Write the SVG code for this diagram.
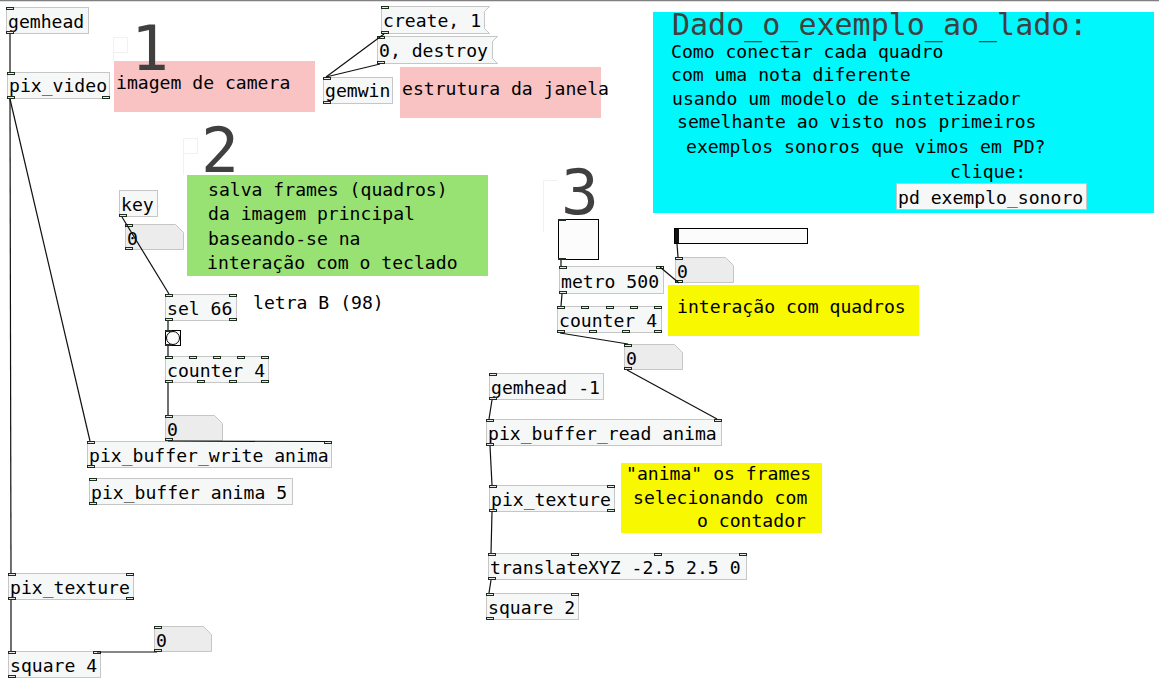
<svg xmlns="http://www.w3.org/2000/svg" width="1159" height="680" viewBox="0 0 1159 680">
<style>
text{font-family:"DejaVu Sans Mono","Liberation Mono",monospace;font-size:18.1px;fill:#000}
.obj{fill:#f6f8f8;stroke:#c6c6c6;stroke-width:1}
.num{fill:#ececec;stroke:#c6c6c6;stroke-width:1}
.msg{fill:#f6f8f8;stroke:#c6c6c6;stroke-width:1}
.io{fill:#e8ece8;stroke:#1e2e1e;stroke-width:1}
.iod{fill:#1e2e1e;stroke:#1e2e1e;stroke-width:1}
.big{font-size:63px;fill:#404040}
.title{font-size:30px;fill:#404040}
.faint{fill:none;stroke:#f1f1f1;stroke-width:1}
#connectors line{stroke:#101010;stroke-width:1.2}
</style>
<rect width="1159" height="680" fill="#ffffff"/>
<line x1="0" y1="0.5" x2="1159" y2="0.5" stroke="#808080" stroke-width="1.5"/>

<!-- faint canvas marks -->
<g id="faint">
<path class="faint" d="M113.5,61 V37.5 H127.5 V52.5 H113.5"/>
<path class="faint" d="M183.5,175 V138.5 H197.5 V153.5 H183.5"/>
<path class="faint" d="M543.5,232 V180.5 H557.5"/>
</g>

<!-- comments / colored backgrounds -->
<g id="c1"><rect x="114" y="61" width="201" height="51" fill="#f9c3c3"/><text x="116" y="89">imagem de camera</text></g>
<g id="n1"><text class="big" x="131" y="70">1</text></g>
<g id="c_janela"><rect x="400" y="67" width="201" height="51" fill="#f9c3c3"/><text x="402" y="95">estrutura da janela</text></g>
<g id="n2"><text class="big" x="201" y="172">2</text></g>
<g id="c2"><rect x="187" y="175" width="301" height="101" fill="#98e274"/>
<text x="208" y="196">salva frames (quadros)</text>
<text x="208" y="220">da imagem principal</text>
<text x="208" y="245">baseando-se na</text>
<text x="207" y="269">interação com o teclado</text></g>
<g id="c_letra"><text x="253" y="309">letra B (98)</text></g>
<g id="n3"><text class="big" x="561" y="214">3</text></g>
<g id="c3"><rect x="668" y="285" width="251" height="51" fill="#f8f800"/><text x="677" y="313">interação com quadros</text></g>
<g id="c4"><rect x="621" y="463" width="201" height="70" fill="#f8f800"/>
<text x="626" y="480">"anima" os frames</text>
<text x="633" y="504">selecionando com</text>
<text x="697" y="527">o contador</text></g>
<g id="c_question"><rect x="653" y="12" width="501" height="201" fill="#00f8fc"/>
<text class="title" x="672" y="35">Dado_o_exemplo_ao_lado:</text>
<text x="671" y="58">Como conectar cada quadro</text>
<text x="671" y="81">com uma nota diferente</text>
<text x="672" y="105">usando um modelo de sintetizador</text>
<text x="677" y="128">semelhante ao visto nos primeiros</text>
<text x="686" y="153">exemplos sonoros que vimos em PD?</text>
<text x="950" y="178">clique:</text></g>
<g id="pd_exemplo"><rect class="obj" x="896.5" y="183.5" width="190" height="26"/><text x="898" y="204">pd exemplo_sonoro</text></g>

<!-- left column -->
<g id="gemhead"><rect class="obj" x="6.5" y="7.5" width="82" height="26"/><text x="8" y="28">gemhead</text>
<rect class="io" x="6.5" y="7.5" width="7" height="2"/><rect class="io" x="6.5" y="31.5" width="7" height="2"/></g>
<g id="pix_video"><rect class="obj" x="7.5" y="72.5" width="102" height="26"/><text x="9" y="92">pix_video</text>
<rect class="io" x="7.5" y="72.5" width="7" height="2"/><rect class="io" x="7.5" y="96.5" width="7" height="2"/><rect class="io" x="102.5" y="96.5" width="7" height="2"/></g>

<g id="msg_create"><path class="msg" d="M381.5,6.5 H489.5 L484.5,11.5 V28.5 L489.5,33.5 H381.5 Z"/><text x="383" y="27">create, 1</text>
<rect class="io" x="381.5" y="6.5" width="7" height="2"/><rect class="io" x="381.5" y="31.5" width="7" height="2"/></g>
<g id="msg_destroy"><path class="msg" d="M377.5,36.5 H497.5 L492.5,41.5 V58.5 L497.5,63.5 H377.5 Z"/><text x="379" y="57">0, destroy</text>
<rect class="io" x="377.5" y="36.5" width="7" height="2"/><rect class="io" x="377.5" y="61.5" width="7" height="2"/></g>
<g id="gemwin"><rect class="obj" x="323.5" y="77.5" width="69" height="26"/><text x="325" y="97">gemwin</text>
<rect class="io" x="323.5" y="77.5" width="7" height="2"/><rect class="io" x="323.5" y="101.5" width="7" height="2"/></g>

<g id="key"><rect class="obj" x="119.5" y="190.5" width="38" height="26"/><text x="121" y="211">key</text>
<rect class="io" x="119.5" y="214.5" width="7" height="2"/></g>
<g id="num_key"><path class="num" d="M125.5,224.5 H175.5 L183.5,232.5 V249.5 H125.5 Z"/><text x="127" y="245">0</text>
<rect class="io" x="125.5" y="224.5" width="7" height="2"/><rect class="io" x="125.5" y="247.5" width="7" height="2"/></g>
<g id="sel66"><rect class="obj" x="165.5" y="294.5" width="71" height="26"/><text x="167" y="315">sel 66</text>
<rect class="io" x="165.5" y="294.5" width="7" height="2"/><rect class="io" x="229.5" y="294.5" width="7" height="2"/>
<rect class="io" x="165.5" y="318.5" width="7" height="2"/><rect class="io" x="229.5" y="318.5" width="7" height="2"/></g>
<g id="bang"><rect x="165.5" y="330.5" width="15" height="15" fill="#fcfcfc" stroke="#000" stroke-width="1"/><circle cx="173" cy="338" r="6.5" fill="#fcfcfc" stroke="#000" stroke-width="1"/>
<rect class="iod" x="165.5" y="330.5" width="6" height="1"/><rect class="iod" x="165.5" y="344.5" width="6" height="1"/></g>
<g id="counter_left"><rect class="obj" x="165.5" y="356.5" width="103" height="26"/><text x="167" y="377">counter 4</text>
<rect class="io" x="165.5" y="356.5" width="7" height="2"/><rect class="io" x="189.5" y="356.5" width="7" height="2"/><rect class="io" x="213.5" y="356.5" width="7" height="2"/><rect class="io" x="237.5" y="356.5" width="7" height="2"/><rect class="io" x="261.5" y="356.5" width="7" height="2"/>
<rect class="io" x="165.5" y="380.5" width="7" height="2"/><rect class="io" x="197.5" y="380.5" width="7" height="2"/><rect class="io" x="229.5" y="380.5" width="7" height="2"/><rect class="io" x="261.5" y="380.5" width="7" height="2"/></g>
<g id="num_counter_left"><path class="num" d="M165.5,415.5 H214.5 L222.5,423.5 V440.5 H165.5 Z"/><text x="167" y="436">0</text>
<rect class="io" x="165.5" y="415.5" width="7" height="2"/><rect class="io" x="165.5" y="438.5" width="7" height="2"/></g>
<g id="pix_buffer_write"><rect class="obj" x="87.5" y="441.5" width="244" height="26"/><text x="89" y="462">pix_buffer_write anima</text>
<rect class="io" x="87.5" y="441.5" width="7" height="2"/><rect class="io" x="324.5" y="441.5" width="7" height="2"/><rect class="io" x="87.5" y="465.5" width="7" height="2"/></g>
<g id="pix_buffer"><rect class="obj" x="89.5" y="478.5" width="203" height="26"/><text x="91" y="499">pix_buffer anima 5</text>
<rect class="io" x="89.5" y="478.5" width="7" height="2"/><rect class="io" x="89.5" y="502.5" width="7" height="2"/></g>
<g id="pix_texture_left"><rect class="obj" x="8.5" y="573.5" width="125" height="26"/><text x="10" y="594">pix_texture</text>
<rect class="io" x="8.5" y="573.5" width="7" height="2"/><rect class="io" x="126.5" y="573.5" width="7" height="2"/>
<rect class="io" x="8.5" y="597.5" width="7" height="2"/><rect class="io" x="126.5" y="597.5" width="7" height="2"/></g>
<g id="num_square4"><path class="num" d="M154.5,626.5 H203.5 L211.5,634.5 V651.5 H154.5 Z"/><text x="156" y="647">0</text>
<rect class="io" x="154.5" y="626.5" width="7" height="2"/><rect class="io" x="154.5" y="649.5" width="7" height="2"/></g>
<g id="square4"><rect class="obj" x="8.5" y="651.5" width="92" height="26"/><text x="10" y="672">square 4</text>
<rect class="io" x="8.5" y="651.5" width="7" height="2"/><rect class="io" x="93.5" y="651.5" width="7" height="2"/><rect class="io" x="8.5" y="675.5" width="7" height="2"/></g>

<!-- right column -->
<g id="toggle"><rect x="558.5" y="219.5" width="40" height="40" fill="#fcfcfc" stroke="#000" stroke-width="1"/>
<rect class="iod" x="558.5" y="219.5" width="7" height="1"/><rect class="iod" x="558.5" y="258.5" width="7" height="1"/></g>
<g id="hslider"><rect x="674.5" y="228.5" width="133" height="15" fill="#fcfcfc" stroke="#000" stroke-width="1"/><rect x="675" y="229" width="4" height="14" fill="#111"/></g>
<g id="num_slider"><path class="num" d="M675.5,257.5 H725.5 L733.5,265.5 V282.5 H675.5 Z"/><text x="677" y="278">0</text>
<rect class="io" x="675.5" y="257.5" width="7" height="2"/><rect class="io" x="675.5" y="280.5" width="7" height="2"/></g>
<g id="metro"><rect class="obj" x="559.5" y="266.5" width="104" height="27"/><text x="561" y="288">metro 500</text>
<rect class="io" x="559.5" y="266.5" width="7" height="2"/><rect class="io" x="656.5" y="266.5" width="7" height="2"/><rect class="io" x="559.5" y="291.5" width="7" height="2"/></g>
<g id="counter_right"><rect class="obj" x="557.5" y="306.5" width="104" height="26"/><text x="559" y="327">counter 4</text>
<rect class="io" x="557.5" y="306.5" width="7" height="2"/><rect class="io" x="581.5" y="306.5" width="7" height="2"/><rect class="io" x="606.5" y="306.5" width="7" height="2"/><rect class="io" x="630.5" y="306.5" width="7" height="2"/><rect class="io" x="654.5" y="306.5" width="7" height="2"/>
<rect class="io" x="557.5" y="330.5" width="7" height="2"/><rect class="io" x="589.5" y="330.5" width="7" height="2"/><rect class="io" x="622.5" y="330.5" width="7" height="2"/><rect class="io" x="654.5" y="330.5" width="7" height="2"/></g>
<g id="num_counter_right"><path class="num" d="M624.5,344.5 H674.5 L682.5,352.5 V369.5 H624.5 Z"/><text x="626" y="365">0</text>
<rect class="io" x="624.5" y="344.5" width="7" height="2"/><rect class="io" x="624.5" y="367.5" width="7" height="2"/></g>
<g id="gemhead_m1"><rect class="obj" x="489.5" y="373.5" width="114" height="26"/><text x="491" y="394">gemhead -1</text>
<rect class="io" x="489.5" y="373.5" width="7" height="2"/><rect class="io" x="489.5" y="397.5" width="7" height="2"/></g>
<g id="pix_buffer_read"><rect class="obj" x="486.5" y="419.5" width="235" height="26"/><text x="488" y="440">pix_buffer_read anima</text>
<rect class="io" x="486.5" y="419.5" width="7" height="2"/><rect class="io" x="714.5" y="419.5" width="7" height="2"/><rect class="io" x="486.5" y="443.5" width="7" height="2"/></g>
<g id="pix_texture_right"><rect class="obj" x="489.5" y="485.5" width="125" height="26"/><text x="491" y="506">pix_texture</text>
<rect class="io" x="489.5" y="485.5" width="7" height="2"/><rect class="io" x="607.5" y="485.5" width="7" height="2"/>
<rect class="io" x="489.5" y="509.5" width="7" height="2"/><rect class="io" x="607.5" y="509.5" width="7" height="2"/></g>
<g id="translateXYZ"><rect class="obj" x="488.5" y="553.5" width="258" height="26"/><text x="490" y="574">translateXYZ -2.5 2.5 0</text>
<rect class="io" x="488.5" y="553.5" width="7" height="2"/><rect class="io" x="571.5" y="553.5" width="7" height="2"/><rect class="io" x="654.5" y="553.5" width="7" height="2"/><rect class="io" x="739.5" y="553.5" width="7" height="2"/>
<rect class="io" x="488.5" y="577.5" width="7" height="2"/></g>
<g id="square2"><rect class="obj" x="486.5" y="593.5" width="92" height="26"/><text x="488" y="614">square 2</text>
<rect class="io" x="486.5" y="593.5" width="7" height="2"/><rect class="io" x="571.5" y="593.5" width="7" height="2"/><rect class="io" x="486.5" y="617.5" width="7" height="2"/></g>

<!-- connectors -->
<g id="connectors">
<line x1="10" y1="34" x2="10" y2="72"/>
<line x1="10" y1="99" x2="11" y2="573"/>
<line x1="10" y1="99" x2="90" y2="441"/>
<line x1="384" y1="34" x2="326" y2="77"/>
<line x1="380" y1="64" x2="326" y2="77"/>
<line x1="122" y1="217" x2="169" y2="294"/>
<line x1="168" y1="321" x2="168" y2="330"/>
<line x1="168" y1="346" x2="168" y2="356"/>
<line x1="168" y1="383" x2="168" y2="415"/>
<line x1="168" y1="441" x2="328" y2="441.5"/>
<line x1="11" y1="600" x2="11" y2="651"/>
<line x1="157" y1="652" x2="97" y2="652"/>
<line x1="561" y1="260" x2="561" y2="266"/>
<line x1="677" y1="244" x2="678" y2="257"/>
<line x1="679" y1="283" x2="660" y2="267"/>
<line x1="562" y1="294" x2="561" y2="306"/>
<line x1="560" y1="333" x2="628" y2="344"/>
<line x1="627" y1="370" x2="717" y2="419"/>
<line x1="492" y1="400" x2="489" y2="419"/>
<line x1="490" y1="446" x2="492" y2="485"/>
<line x1="492" y1="512" x2="491" y2="553"/>
<line x1="491" y1="580" x2="489" y2="593"/>
</g>
</svg>
